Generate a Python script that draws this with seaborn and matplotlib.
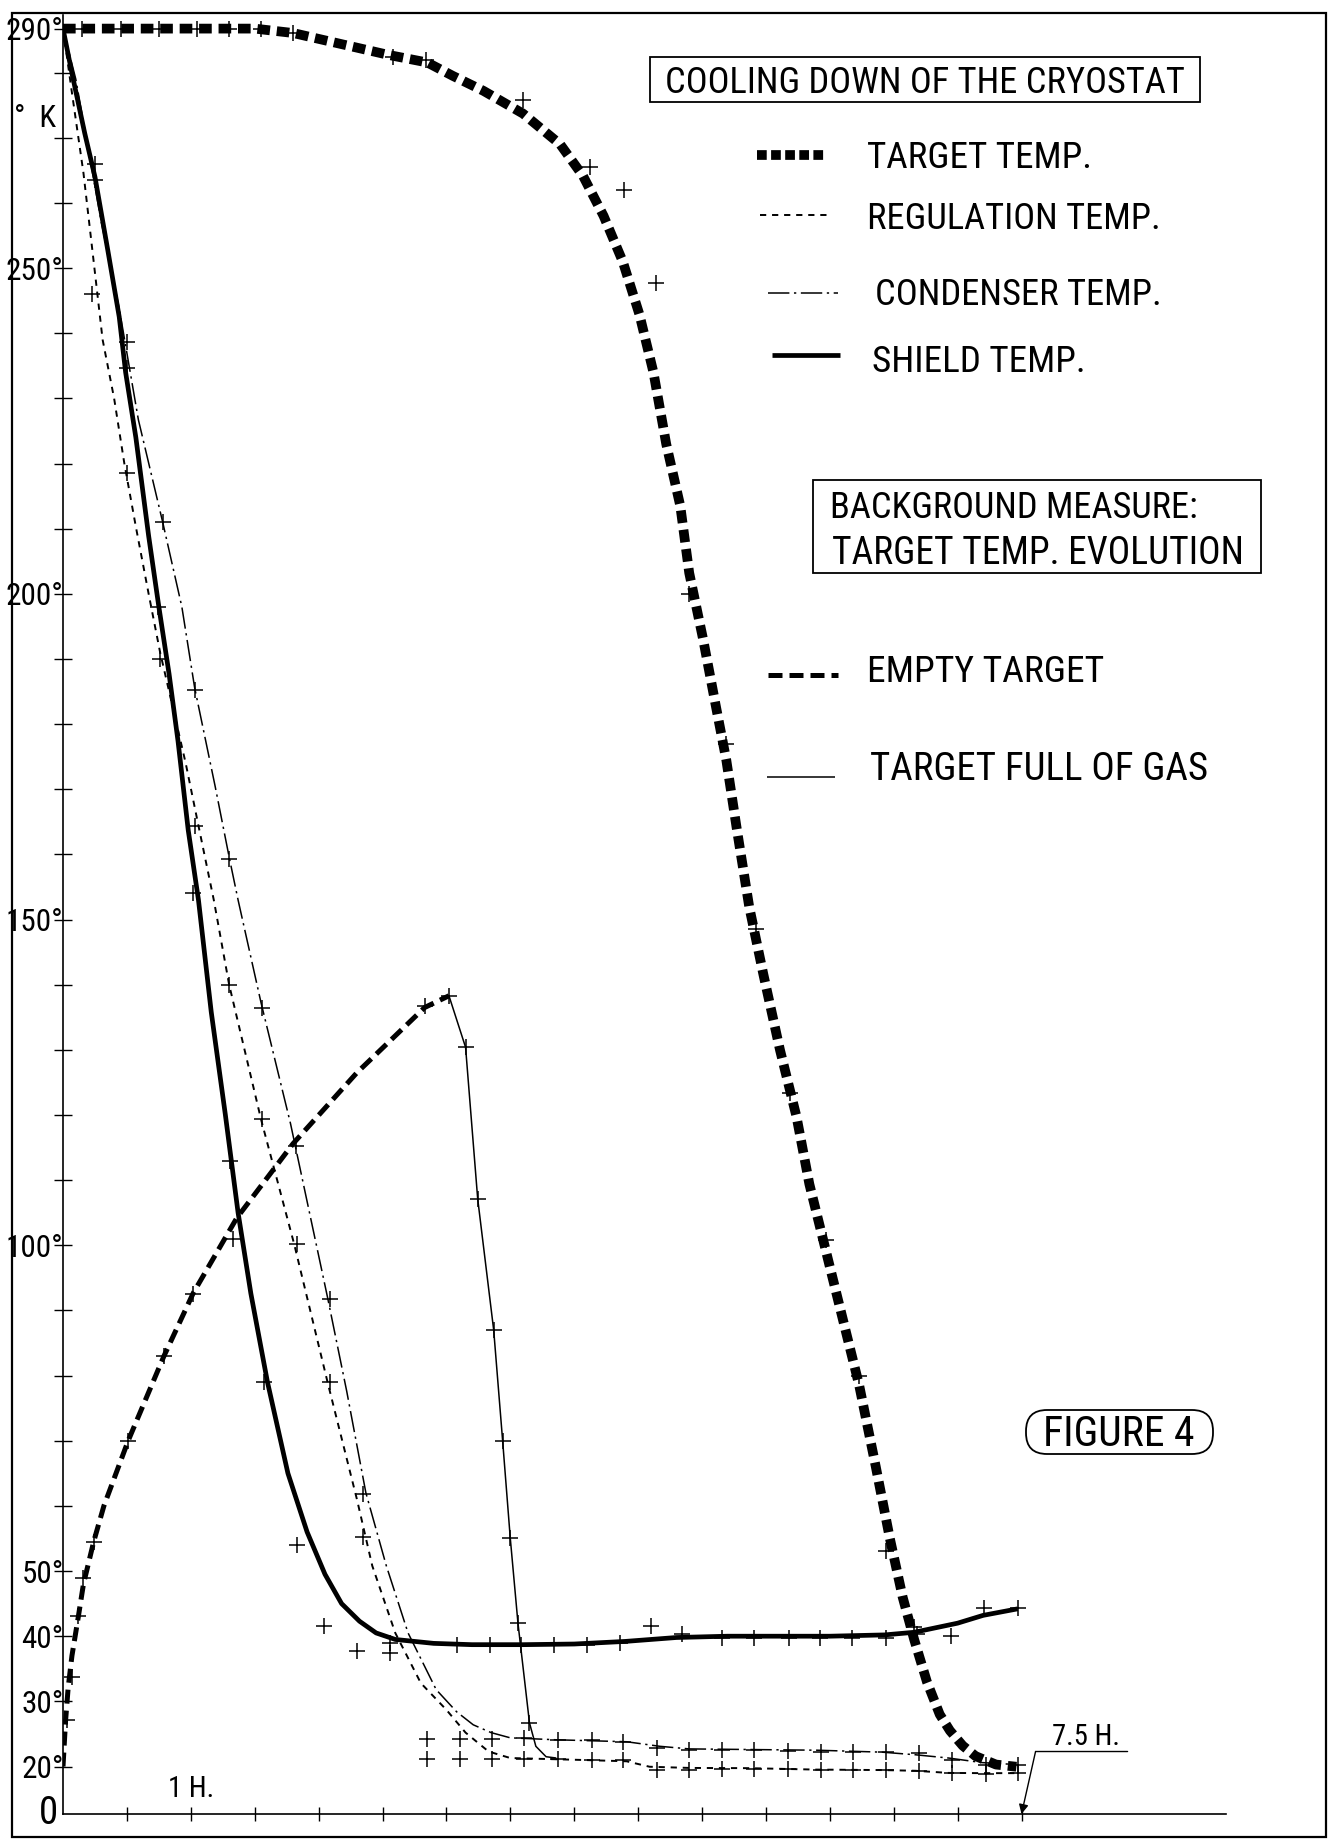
import numpy as np
import matplotlib
matplotlib.use("Agg")
import matplotlib.pyplot as plt
import matplotlib.font_manager as fm
import seaborn as sns
from matplotlib.lines import Line2D
from matplotlib.patches import Rectangle, FancyBboxPatch
from matplotlib.transforms import IdentityTransform

# ---------------- data (time in hours, temperature in K) ----------------
time_target = [0.0, 0.5, 1.0, 1.5, 1.8, 2.1, 2.55, 2.85, 3.05, 3.29, 3.6, 3.89, 4.07, 4.23,
               4.38, 4.51, 4.62, 4.72, 4.83, 4.9, 5.01, 5.11, 5.19, 5.27, 5.37, 5.48, 5.61,
               5.74, 5.84, 5.97, 6.1, 6.23, 6.36, 6.47, 6.57, 6.66, 6.76, 6.86, 6.94, 7.04,
               7.14, 7.3, 7.46]
temp_target = [290, 290, 290, 290, 289, 287.0, 284.0, 282.3, 279.5, 277.2, 273.7, 269, 264.1, 258,
               251, 242.9, 234, 223, 213.5, 203.2, 192.9, 182.6, 174.5, 164.2, 151.9, 141.6, 130,
               119.7, 109.4, 99.1, 88.8, 78.5, 66, 55, 46, 39.5, 33, 28, 25.5, 23.2,
               21.6, 20.3, 19.9]

time_shield = [0.0, 0.07, 0.17, 0.25, 0.35, 0.44, 0.49, 0.57, 0.67, 0.75, 0.83, 0.90, 0.98, 1.06,
               1.16, 1.27, 1.37, 1.47, 1.60, 1.76, 1.91, 2.05, 2.18, 2.32, 2.45, 2.6, 2.9, 3.2,
               3.6, 4.0, 4.4, 4.8, 5.2, 5.6, 6.0, 6.43, 6.66, 7.0, 7.2, 7.47]
temp_shield = [290, 279.9, 270.7, 264, 252.8, 242.5, 234, 224, 208.9, 198, 187.7, 177.4, 163.7, 153,
               135.8, 120.1, 105, 92.6, 79, 65, 56, 49.5, 45, 42.3, 40.5, 39.5, 38.9, 38.7,
               38.7, 38.8, 39.2, 39.8, 40, 40, 40, 40.2, 40.6, 42, 43.2, 44.2]

time_regul = [0.0, 0.07, 0.16, 0.23, 0.31, 0.40, 0.48, 0.57, 0.67, 0.76, 0.88, 0.96, 1.06, 1.18,
              1.30, 1.55, 1.81, 2.07, 2.30, 2.42, 2.60, 2.80, 3.0, 3.15, 3.33, 3.5, 4.07, 4.41,
              4.59, 4.9, 5.37, 5.89, 6.41, 6.67, 6.93, 7.19, 7.46]
temp_regul = [290, 276.9, 264.6, 252.7, 239, 230, 220, 210.3, 200, 191, 180.8, 174, 164.4, 153,
              140, 119.3, 100.1, 79, 61, 50.8, 40.5, 32.8, 28.7, 25.2, 22.3, 21.3, 21.0, 20.8,
              19.9, 19.4, 19.3, 18.7, 18.5, 18.2, 17.3, 17.2, 17.2]

time_cond = [0.0, 0.1, 0.2, 0.3, 0.44, 0.59, 0.78, 0.93, 1.03, 1.19, 1.30, 1.37, 1.55, 1.78, 2.07,
             2.22, 2.37, 2.53, 2.70, 2.92, 3.08, 3.21, 3.35, 3.5, 3.86, 4.41, 4.67, 4.9, 5.4, 5.9,
             6.41, 6.67, 6.93, 7.19, 7.46]
temp_cond = [290, 279, 268, 257, 243.8, 226.7, 211, 198, 185.6, 170.5, 159.6, 153, 137.2, 118.7, 92,
             77.6, 62, 50.8, 40.5, 31.8, 28.4, 26.4, 25.2, 24.4, 24.1, 23.8, 23.1, 22.7, 22.6, 22.5,
             22.2, 21.8, 21.3, 20.6, 20.3]

time_empty = [0.0, 0.02, 0.04, 0.07, 0.12, 0.16, 0.24, 0.32, 0.51, 0.79, 1.02, 1.36, 1.80, 2.3,
              2.83, 3.02]
temp_empty = [20, 27, 32, 37, 43, 48, 54.5, 60, 70, 83, 92.7, 104.2, 115.6, 126.5, 136.5, 138.3]

time_gas = [3.02, 3.15, 3.245, 3.37, 3.44, 3.50, 3.56, 3.62, 3.65, 3.70, 3.78, 3.86]
temp_gas = [138.3, 130.4, 107.1, 87, 70, 55, 42, 31.8, 26.7, 23.1, 21.5, 21.3]

# measured points (+)
target_pts_t = [0.15, 0.45, 0.75, 1.05, 1.3, 1.55, 1.8, 2.58, 2.84, 3.6, 4.12, 4.39, 4.64, 4.9,
                5.19, 5.42, 5.69, 5.97, 6.23, 6.44, 6.66]
target_pts_T = [290, 290, 290, 290, 290, 290, 289, 283.5, 282.8, 275.8, 265.5, 262, 247.7, 200,
                177, 148.5, 123.4, 100.8, 80, 53.1, 41.4]
shield_pts_t = [0.25, 0.25, 0.50, 0.74, 0.76, 1.02, 1.31, 1.57, 1.83, 2.04, 2.30, 2.56, 2.56, 3.08,
                3.34, 3.58, 3.84, 4.10, 4.36, 4.60, 4.84, 5.16, 5.41, 5.68, 5.92, 6.17, 6.44,
                6.68, 6.95, 7.21, 7.47]
shield_pts_T = [266, 263.5, 238.7, 198, 190, 154, 113, 79, 54, 41.5, 37.7, 37.4, 39.0, 38.7,
                38.7, 38.7, 38.7, 38.7, 39.0, 41.5, 40.3, 39.8, 39.8, 39.8, 39.8, 39.8, 39.8,
                40.3, 40.0, 44.3, 44.3]
regul_pts_t = [0.23, 0.50, 1.03, 1.30, 1.56, 1.83, 2.09, 2.35, 2.85, 3.11, 3.36, 3.61, 3.87, 4.14,
               4.38, 4.65, 4.90, 5.16, 5.41, 5.67, 5.93, 6.18, 6.44, 6.70, 6.96, 7.22, 7.47]
regul_pts_T = [246, 218.5, 164.4, 140, 119.4, 100.2, 79, 55.3, 21.1, 21.1, 21.1, 21.1, 21.1, 21.0,
               21.0, 18.6, 18.7, 19.1, 19.1, 19.0, 18.4, 18.6, 18.4, 18.2, 17.2, 17.0, 17.2]
cond_pts_t = [0.50, 0.78, 1.03, 1.30, 1.56, 1.82, 2.09, 2.35, 2.85, 3.11, 3.36, 3.61, 3.87, 4.14,
              4.38, 4.65, 4.90, 5.16, 5.41, 5.67, 5.93, 6.18, 6.44, 6.70, 6.96, 7.22, 7.47]
cond_pts_T = [234.6, 211, 185.3, 159.3, 136.5, 115.3, 91.7, 61.9, 24.2, 24.2, 24.2, 24.3, 24.1,
              24.0, 23.8, 22.8, 22.6, 22.6, 22.6, 22.4, 22.3, 22.3, 22.2, 22.05, 21.0, 20.3, 20.3]
empty_pts_t = [0.035, 0.07, 0.12, 0.156, 0.24, 0.51, 0.79, 1.02, 1.33, 2.83, 3.02]
empty_pts_T = [27.2, 33.8, 43.1, 49, 54.4, 70, 83, 92.6, 101, 136.8, 138.3]
gas_pts_t = [3.15, 3.245, 3.37, 3.44, 3.50, 3.56, 3.65]
gas_pts_T = [130.4, 107.1, 87, 70, 55, 42, 26.7]

# axis ticks / labels
hour_ticks = [0.5 * i for i in range(1, 16)]
temp_major = [20, 30, 40, 50, 100, 150, 200, 250, 290]
temp_minor = [60, 70, 80, 90, 110, 120, 130, 140, 160, 170, 180, 190, 210, 220, 230, 240,
              260, 270, 280]
temp_labels = ["20°", "30°", "40°", "50°", "100°", "150°", "200°", "250°", "290°"]

# ---------------- styling ----------------
sns.set_theme(style="ticks")


def pick_narrow_font():
    pref = ["Liberation Sans Narrow", "Roboto Condensed", "Open Sans Condensed",
            "Noto Sans Condensed", "DejaVu Sans Condensed", "Arial Narrow"]
    cands = []
    for f in fm.fontManager.ttflist:
        w = f.weight
        if f.style != "normal" or w not in (400, "normal", "regular", "book"):
            continue
        if (f.stretch in ("condensed", "semi-condensed", "extra-condensed")
                or "Narrow" in f.name or "Condensed" in f.name):
            cands.append(f)
    for p in pref:
        for f in cands:
            if f.name == p:
                return f.name, f.stretch
    if cands:
        return cands[0].name, cands[0].stretch
    return "Roboto", "normal"


FONT_NAME, FONT_STRETCH = pick_narrow_font()
plt.rcParams["font.family"] = [FONT_NAME, "DejaVu Sans"]
plt.rcParams["font.stretch"] = FONT_STRETCH
plt.rcParams["text.color"] = "black"

W, H = 1335, 1843
fig = plt.figure(figsize=(W / 100, H / 100), dpi=100)
fig.patch.set_facecolor("white")
renderer = fig.canvas.get_renderer()


def fx(p):
    return p / W


def fy(p):
    return 1 - p / H


def fit(t, target_w):
    w = t.get_window_extent(renderer).width
    if w > target_w:
        t.set_fontsize(t.get_fontsize() * target_w / w)
    return t


# broken (piecewise-linear) temperature scale, as on the hand-drawn original
Y_NODES = np.array([0.0, 20.0, 280.0, 290.0])
P_NODES = np.array([0.0, 47.5, 1741.4, 1785.4])


def _pw(v, a, b):
    v = np.asarray(v, dtype=float)
    out = np.interp(v, a, b)
    s0 = (b[1] - b[0]) / (a[1] - a[0])
    s1 = (b[-1] - b[-2]) / (a[-1] - a[-2])
    out = np.where(v < a[0], b[0] + (v - a[0]) * s0, out)
    out = np.where(v > a[-1], b[-1] + (v - a[-1]) * s1, out)
    return out


def fwd(v):
    return _pw(v, Y_NODES, P_NODES)


def inv(v):
    return _pw(v, P_NODES, Y_NODES)


X0, Y0 = 63, 1814          # pixel position of the origin
PX_PER_H = 127.8
XMAX, YMAX = 9.1, 293
ax = fig.add_axes([fx(X0), (H - Y0) / H, XMAX * PX_PER_H / W, 1798.6 / H])
ax.set_facecolor("none")
ax.set_yscale("function", functions=(fwd, inv))
ax.set_xlim(0, XMAX)
ax.set_ylim(0, YMAX)

for s in ["top", "right"]:
    ax.spines[s].set_visible(False)
for s in ["left", "bottom"]:
    ax.spines[s].set_color("black")
    ax.spines[s].set_linewidth(1.2)

# tick-label size: digits ~20 px tall, "150°" at most ~58 px wide
_probe = fig.text(0, 0, "150°", fontsize=25)
_w = _probe.get_window_extent(renderer).width
TICK_FS = 25 * min(1.0, 58.0 / _w)
_probe.remove()

ax.set_xticks(hour_ticks)
ax.tick_params(axis="x", which="both", direction="inout", length=9.5, width=1.0,
               color="black", bottom=True, labelbottom=False)
ax.set_yticks(temp_major)
ax.set_yticklabels(temp_labels)
ax.set_yticks(temp_minor, minor=True)
ax.tick_params(axis="y", which="both", direction="inout", length=13, width=1.0,
               color="black", left=True, pad=-7, labelsize=TICK_FS, labelcolor="black")
ax.set_xlabel("")
ax.set_ylabel("")


# ---------------- curves ----------------
def curve(t, T, lw, ls, z=3):
    sns.lineplot(x=t, y=T, ax=ax, color="black", linewidth=lw, estimator=None,
                 sort=False, zorder=z)
    ln = ax.lines[-1]
    ln.set_linestyle(ls)
    ln.set_dash_capstyle("butt")
    ln.set_solid_capstyle("butt")


curve(time_target, temp_target, 7.0, (0, (1.3, 0.7)), z=4)
curve(time_shield, temp_shield, 3.4, "-")
curve(time_regul, temp_regul, 1.4, (0, (3.2, 3.0)))
curve(time_cond, temp_cond, 1.1, (0, (14, 3, 1.5, 3)))
curve(time_empty, temp_empty, 3.6, (0, (2.8, 1.4)))
curve(time_gas, temp_gas, 1.1, "-")

for t, T in [(target_pts_t, target_pts_T), (shield_pts_t, shield_pts_T),
             (regul_pts_t, regul_pts_T), (cond_pts_t, cond_pts_T),
             (empty_pts_t, empty_pts_T), (gas_pts_t, gas_pts_T)]:
    sns.scatterplot(x=t, y=T, ax=ax, marker="+", s=140, color="black",
                    linewidth=1.1, zorder=5)

# axis annotations
fit(ax.text(-0.004, 0, "0", transform=ax.get_yaxis_transform(), ha="right", va="center",
            fontsize=28), 24)
fit(ax.text(1.0, 7.2, "1 H.", ha="center", va="baseline", fontsize=25), 46)
fit(ax.text(7.74, 23.3, "7.5 H.", ha="left", va="baseline", fontsize=23), 68)
ax.annotate("", xy=(7.5, 0), xytext=(7.61, 22.3),
            arrowprops=dict(arrowstyle="-|>", color="black", lw=1.0, mutation_scale=14,
                            shrinkA=0, shrinkB=0))
ax.annotate("", xy=(8.33, 22.3), xytext=(7.61, 22.3),
            arrowprops=dict(arrowstyle="-", color="black", lw=1.0, shrinkA=0, shrinkB=0))
fit(fig.text(fx(14), fy(127), "°  K", fontsize=24, va="baseline", ha="left"), 42)

# ---------------- legends & boxes ----------------
TXT = dict(fontsize=28, va="baseline", ha="left", color="black")

fig.add_artist(Rectangle((fx(650), fy(102)), fx(1200) - fx(650), fy(57) - fy(102),
                         transform=fig.transFigure, fill=False, lw=1.3, ec="black"))
fit(fig.text(fx(925), fy(93.3), "COOLING DOWN OF THE CRYOSTAT", fontsize=27, va="baseline",
             ha="center"), 520)


def legline(x1, x2, y, lw, ls):
    fig.add_artist(Line2D([fx(x1), fx(x2)], [fy(y), fy(y)], transform=fig.transFigure,
                          color="black", lw=lw, linestyle=ls, dash_capstyle="butt",
                          solid_capstyle="butt"))


legline(757, 825, 155, 7.0, (0, (1.0, 0.45)))
fit(fig.text(fx(867), fy(168), "TARGET TEMP.", **TXT), 226)
legline(760, 830, 215, 1.4, (0, (3.2, 3.0)))
fit(fig.text(fx(867), fy(229), "REGULATION TEMP.", **TXT), 294)
legline(768, 838, 293, 1.1, (0, (14, 3, 1.5, 3)))
fit(fig.text(fx(875), fy(305), "CONDENSER TEMP.", **TXT), 288)
legline(772, 840, 355, 3.4, "-")
fit(fig.text(fx(872), fy(372), "SHIELD TEMP.", **TXT), 214)

fig.add_artist(Rectangle((fx(812.7), fy(572.7)), fx(1260.7) - fx(812.7), fy(480) - fy(572.7),
                         transform=fig.transFigure, fill=False, lw=1.3, ec="black"))
fit(fig.text(fx(830), fy(518), "BACKGROUND MEASURE:", **TXT), 368)
fit(fig.text(fx(832), fy(564), "TARGET TEMP. EVOLUTION", **TXT), 412)

legline(768, 838, 675, 3.6, (0, (2.8, 1.4)))
fit(fig.text(fx(867), fy(682), "EMPTY TARGET", **TXT), 237)
legline(767, 835, 777, 1.1, "-")
fit(fig.text(fx(870), fy(780), "TARGET FULL OF GAS", **TXT), 344)

# FIGURE 4 in a stadium-shaped box (pixel coordinates, origin bottom-left)
fig.add_artist(FancyBboxPatch((1026, H - 1454), 1213 - 1026, 44,
                              boxstyle="round,pad=0,rounding_size=21",
                              transform=IdentityTransform(), fc="white", ec="black", lw=1.3))
fit(fig.text(fx(1119), fy(1446), "FIGURE 4", fontsize=30, ha="center", va="baseline"), 160)

# outer frame
fig.add_artist(Rectangle((fx(12), fy(1837)), fx(1326) - fx(12), fy(13) - fy(1837),
                         transform=fig.transFigure, fill=False, lw=1.6, ec="black"))

fig.savefig("out.png", dpi=100, facecolor="white")
